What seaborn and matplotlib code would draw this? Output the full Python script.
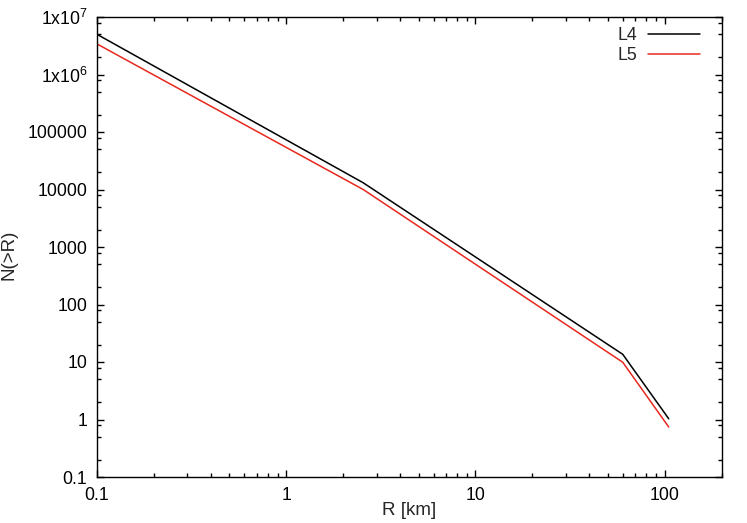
import matplotlib
matplotlib.use("Agg")
import matplotlib.pyplot as plt
import matplotlib.ticker as mticker
from matplotlib.lines import Line2D
import numpy as np
import pandas as pd
import seaborn as sns

# ---- data ----
R_km = [0.1, 2.55, 60.0, 105.0]
N_L4 = [5.0e6, 1.31e4, 13.6, 1.03]
N_L5 = [3.4e6, 1.0e4, 9.9, 0.74]
series_names = ["L4", "L5"]
series_colors = ["#000000", "#e8281e"]
x_tick_vals = [0.1, 1, 10, 100]
x_tick_labels = ["0.1", "1", "10", "100"]
y_tick_vals = [0.1, 1, 10, 100, 1000, 10000, 100000, 1e6, 1e7]
y_tick_labels = ["0.1", "1", "10", "100", "1000", "10000", "100000",
                 "1x10$^{6}$", "1x10$^{7}$"]

sns.set_style("ticks")
plt.rcParams["font.family"] = ["Liberation Sans", "DejaVu Sans"]
plt.rcParams["mathtext.fontset"] = "custom"
plt.rcParams["mathtext.rm"] = "Liberation Sans"
plt.rcParams["mathtext.it"] = "Liberation Sans:italic"
plt.rcParams["mathtext.bf"] = "Liberation Sans:bold"

df = pd.DataFrame({
    "R": R_km * 2,
    "N": N_L4 + N_L5,
    "series": [series_names[0]] * len(R_km) + [series_names[1]] * len(R_km),
})

fig = plt.figure(figsize=(7.47, 5.23), dpi=100)
ax = fig.add_axes([97 / 747, 46 / 523, 624.7 / 747, 460 / 523])

sns.lineplot(data=df, x="R", y="N", hue="series", hue_order=series_names,
             palette=series_colors, linewidth=1.1, ax=ax, legend=False,
             sort=False, estimator=None)

ax.set_xscale("log")
ax.set_yscale("log")
ax.set_xlim(0.1, 200)
ax.set_ylim(0.1, 1e7)

ax.xaxis.set_major_locator(mticker.FixedLocator(x_tick_vals))
ax.xaxis.set_major_formatter(mticker.FixedFormatter(x_tick_labels))
ax.xaxis.set_minor_locator(mticker.LogLocator(base=10, subs=np.arange(2, 10), numticks=20))
ax.xaxis.set_minor_formatter(mticker.NullFormatter())
ax.yaxis.set_major_locator(mticker.FixedLocator(y_tick_vals))
ax.yaxis.set_major_formatter(mticker.FixedFormatter(y_tick_labels))
ax.yaxis.set_minor_locator(mticker.LogLocator(base=10, subs=[2, 5, 8], numticks=20))
ax.yaxis.set_minor_formatter(mticker.NullFormatter())

ax.tick_params(which="both", direction="in", top=True, right=True,
               width=1.0, color="black", labelsize=12.7, labelcolor="black")
ax.tick_params(which="major", length=5.2, pad=7)
ax.tick_params(which="minor", length=2.6)
for s in ax.spines.values():
    s.set_linewidth(1.0)
    s.set_color("black")
    s.set_visible(True)

ax.set_xlabel("R [km]", fontsize=13.5)
ax.set_ylabel("N(>R)", fontsize=13.5)
ax.xaxis.set_label_coords(0.5, -0.054)
ax.yaxis.set_label_coords(-0.1265, 0.483)

handles = [Line2D([], [], color=c, lw=1.1) for c in series_colors]
ax.legend(handles, series_names, loc="upper right", frameon=False,
          markerfirst=False, handlelength=2.95, fontsize=12.7,
          handletextpad=0.6, labelspacing=0.15, borderaxespad=0.3,
          bbox_to_anchor=(0.985, 1.005))

fig.savefig("out.png", dpi=100)
